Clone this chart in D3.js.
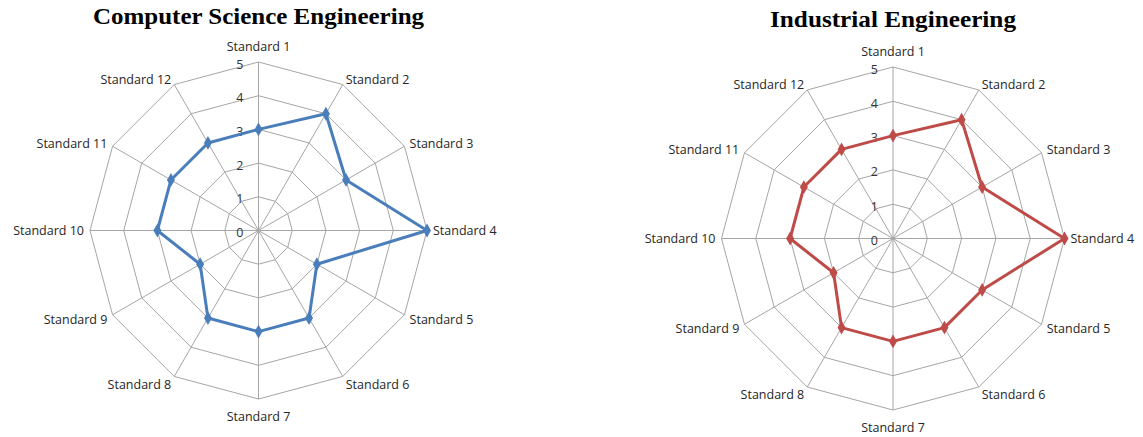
<!DOCTYPE html>
<html><head><meta charset="utf-8">
<script src="https://cdn.jsdelivr.net/npm/d3@7"></script>
<style>body{margin:0;background:#fff;}svg{display:block;}</style>
</head><body>
<svg id="chart" width="1143" height="437"></svg>
<script>
const categories = ["Standard 1","Standard 2","Standard 3","Standard 4","Standard 5","Standard 6","Standard 7","Standard 8","Standard 9","Standard 10","Standard 11","Standard 12"];
const cseValues = [3,4,3,5,2,3,3,3,2,3,3,3];
const ieValues  = [3,4,3,5,3,3,3,3,2,3,3,3];
const tickValues = [0,1,2,3,4,5];
const titles = ["Computer Science Engineering","Industrial Engineering"];

const svg = d3.select("#chart");
svg.append("rect").attr("width",1143).attr("height",437).attr("fill","#fff");

const panels = [
  {title: titles[0], values: cseValues, cx: 258.5, cy: 230.5, r: 168.5, color: "#4a7ebb", titleY: 24, titleW: 331},
  {title: titles[1], values: ieValues,  cx: 893, cy: 238.5, r: 171.5, color: "#be4b48", titleY: 27, titleW: 246}
];

const labelFont = "'Open Sans', 'DejaVu Sans', sans-serif";

panels.forEach(p => {
  const g = svg.append("g").attr("transform", `translate(${p.cx},${p.cy})`);
  const rScale = d3.scaleLinear().domain([0,5]).range([0,p.r]);
  const angle = d3.scaleLinear().domain([0,categories.length]).range([0,2*Math.PI]);
  const pt = (i,v) => [rScale(v)*Math.sin(angle(i)), -rScale(v)*Math.cos(angle(i))];

  // rings
  tickValues.filter(t=>t>0).forEach(t => {
    g.append("polygon")
      .attr("points", categories.map((c,i)=>pt(i,t).join(",")).join(" "))
      .attr("fill","none").attr("stroke","#a6a6a6").attr("stroke-width",1);
  });
  // spokes
  categories.forEach((c,i) => {
    const [x,y] = pt(i,5);
    g.append("line").attr("x1",0).attr("y1",0).attr("x2",x).attr("y2",y)
      .attr("stroke","#a6a6a6").attr("stroke-width",1);
  });
  // tick labels
  tickValues.forEach(t => {
    g.append("text").attr("x",-15).attr("y",-rScale(t)+2)
      .attr("text-anchor","end").attr("dominant-baseline","central")
      .attr("font-family",labelFont).attr("font-size","12.5px").attr("fill","#333")
      .text(t);
  });
  // category labels
  categories.forEach((c,i) => {
    const a = angle(i);
    const s = Math.sin(a), co = Math.cos(a);
    let x = (p.r+6)*s, y = -(p.r+6)*co;
    let anchor = "middle";
    if (s > 0.01) anchor = "start"; else if (s < -0.01) anchor = "end";
    if (Math.abs(s) < 0.01) y += co > 0 ? -10 : 11;
    else if (co < 0) y += -co*3;
    g.append("text").attr("x",x).attr("y",y)
      .attr("text-anchor",anchor).attr("dominant-baseline","central")
      .attr("font-family",labelFont).attr("font-size","12.5px").attr("fill","#262626")
      .text(c);
  });
  // data line
  const line = d3.line().curve(d3.curveLinearClosed);
  g.append("path").attr("d", line(p.values.map((v,i)=>pt(i,v))))
    .attr("fill","none").attr("stroke",p.color).attr("stroke-width",3).attr("stroke-linejoin","round");
  // markers
  const sym = d3.symbol().type(d3.symbolDiamond).size(55);
  p.values.forEach((v,i) => {
    const [x,y] = pt(i,v);
    g.append("path").attr("d", sym()).attr("transform",`translate(${x},${y})`).attr("fill",p.color);
  });
  // title
  svg.append("text").attr("x",p.cx).attr("y",p.titleY)
    .attr("text-anchor","middle").attr("font-family","'Liberation Serif', 'DejaVu Serif', serif")
    .attr("font-weight","bold").attr("font-size","24px").attr("fill","#000")
    .attr("textLength",p.titleW).attr("lengthAdjust","spacingAndGlyphs")
    .text(p.title);
});
</script>
</body></html>
